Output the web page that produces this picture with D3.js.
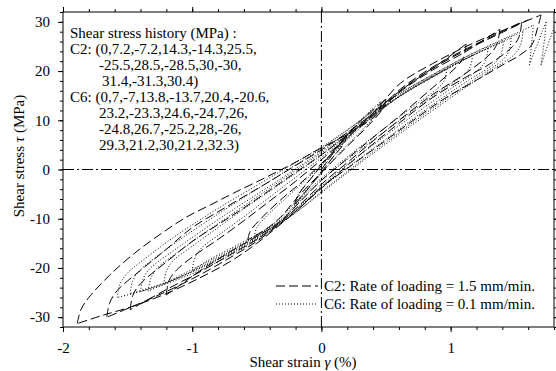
<!DOCTYPE html>
<html>
<head>
<meta charset="utf-8">
<script src="https://cdnjs.cloudflare.com/ajax/libs/d3/7.8.5/d3.min.js"></script>
<style>
  body { margin: 0; background: #fff; }
  svg { display: block; font-family: "Liberation Serif", "Times New Roman", serif; }
</style>
</head>
<body>
<div id="chart"></div>
<script>
// axis ticks
var xTicks = [-2, -1, 0, 1];
var yTicks = [-30, -20, -10, 0, 10, 20, 30];

// text in the upper-left box
var historyLines = [
  "Shear stress history (MPa) :",
  "C2: (0,7.2,-7.2,14.3,-14.3,25.5,",
  "-25.5,28.5,-28.5,30,-30,",
  "31.4,-31.3,30.4)",
  "C6: (0,7,-7,13.8,-13.7,20.4,-20.6,",
  "23.2,-23.3,24.6,-24.7,26,",
  "-24.8,26.7,-25.2,28,-26,",
  "29.3,21.2,30,21.2,32.3)"
];
var legendLabels = ["C2: Rate of loading = 1.5 mm/min.", "C6: Rate of loading = 0.1 mm/min."];

// C2 : one array of [strain %, stress MPa] per half cycle
var c2 = [
  [[0,0],[0.1,3.7],[0.2,7.2]],
  [[0.2,7.2],[0.18,5.5],[0.08,2.2],[0,-0.5],[-0.1,-3.8],[-0.21,-7.2]],
  [[-0.21,-7.2],[-0.18,-5.2],[-0.08,-1.8],[0,0.8],[0.15,5.5],[0.32,10.3],[0.5,14.3]],
  [[0.5,14.3],[0.47,12.2],[0.35,8.6],[0.18,4.2],[0,-0.6],[-0.18,-5.5],[-0.32,-9.8],[-0.45,-12.5],[-0.57,-14.3]],
  [[-0.57,-14.3],[-0.55,-12.5],[-0.45,-9.5],[-0.3,-5.8],[-0.15,-2.5],[0,1.2],[0.18,5.8],[0.35,10.3],[0.55,14.8],[0.75,18.6],[0.95,22.2],[1.12,25.5]],
  [[1.12,25.5],[1.10,22.8],[1.05,21.0],[0.86,16.6],[0.61,11.0],[0.4,6.5],[0.2,2.2],[0,-2.2],[-0.16,-6.4],[-0.32,-10.6],[-0.5,-13.6],[-0.7,-16.6],[-0.94,-20.6],[-1.08,-23.2],[-1.2,-25.5]],
  [[-1.2,-25.5],[-1.18,-22.6],[-1.12,-20.4],[-1.0,-17.8],[-0.8,-14.2],[-0.6,-10.4],[-0.4,-6.4],[-0.2,-2.4],[0,2.0],[0.2,6.5],[0.4,11],[0.61,15.8],[0.86,20.2],[1.12,24],[1.38,28.5]],
  [[1.38,28.5],[1.36,25.6],[1.31,23.6],[1.12,19.6],[0.86,15.2],[0.61,10.2],[0.4,5.8],[0.2,1.4],[0,-3.0],[-0.16,-7.0],[-0.32,-10.8],[-0.5,-14.2],[-0.7,-17.2],[-0.94,-20.8],[-1.2,-24.4],[-1.38,-27.0],[-1.48,-28.5]],
  [[-1.48,-28.5],[-1.46,-25.6],[-1.4,-23.2],[-1.2,-18.8],[-1.0,-14.6],[-0.8,-11.2],[-0.6,-7.8],[-0.4,-4.2],[-0.2,-0.6],[0,3.0],[0.2,7.0],[0.4,11.2],[0.61,16.3],[0.86,20.8],[1.12,24.5],[1.38,27.8],[1.55,30]],
  [[1.55,30],[1.53,27.0],[1.48,25.0],[1.3,21.4],[1.12,18.8],[0.86,14.6],[0.61,9.6],[0.4,5.2],[0.2,0.8],[0,-3.8],[-0.16,-7.6],[-0.32,-11.0],[-0.5,-14.6],[-0.7,-17.8],[-0.94,-21.4],[-1.2,-24.8],[-1.46,-27.8],[-1.66,-30]],
  [[-1.66,-30],[-1.64,-27.2],[-1.58,-24.6],[-1.4,-20.5],[-1.2,-16.2],[-1.0,-11.8],[-0.8,-8.6],[-0.6,-5.5],[-0.4,-2.4],[-0.2,0.8],[0,4.0],[0.2,7.5],[0.4,11.5],[0.61,17.5],[0.86,21.5],[1.12,25],[1.38,28],[1.55,29.8],[1.70,31.4]],
  [[1.70,31.4],[1.67,28.5],[1.63,25.4],[1.55,23.5],[1.40,21.2],[1.19,18.0],[0.94,14.2],[0.68,9.4],[0.45,5.0],[0.22,0.6],[0,-3.6],[-0.16,-7.6],[-0.32,-11.2],[-0.5,-15.0],[-0.7,-18.6],[-0.94,-22.0],[-1.2,-25.2],[-1.46,-27.8],[-1.69,-29.6],[-1.89,-31.3]],
  [[-1.89,-31.3],[-1.86,-28.4],[-1.80,-26],[-1.64,-21.5],[-1.46,-17.3],[-1.25,-13.2],[-1.04,-9.6],[-0.86,-7.2],[-0.68,-4.8],[-0.43,-1.6],[-0.22,1.2],[0,4.4],[0.19,7.0],[0.4,10.5],[0.61,16],[0.86,20.5],[1.12,24.3],[1.38,27.6],[1.6,30.4]]
];

// C6 : same layout
var c6 = [
  [[0,0],[0.1,3.6],[0.19,7]],
  [[0.19,7],[0.17,5.4],[0.08,2.2],[0,-0.4],[-0.1,-3.7],[-0.2,-7]],
  [[-0.2,-7],[-0.18,-5.1],[-0.08,-1.7],[0,0.9],[0.15,5.6],[0.3,10.0],[0.46,13.8]],
  [[0.46,13.8],[0.44,11.8],[0.33,8.4],[0.16,3.9],[0,-0.8],[-0.16,-5.4],[-0.32,-9.9],[-0.43,-12.2],[-0.52,-13.7]],
  [[-0.52,-13.7],[-0.5,-11.8],[-0.43,-9.6],[-0.3,-6.4],[-0.15,-2.8],[0,0.9],[0.2,6.0],[0.4,10.8],[0.61,15.0],[0.8,18.0],[0.97,20.4]],
  [[0.97,20.4],[0.95,18.0],[0.9,16.5],[0.7,12.6],[0.5,8.6],[0.3,4.6],[0.1,0.4],[-0.1,-4.2],[-0.32,-10.3],[-0.5,-13.2],[-0.7,-16.0],[-0.88,-18.5],[-1.0,-20.6]],
  [[-1.0,-20.6],[-0.98,-18.0],[-0.93,-16.0],[-0.8,-13.4],[-0.6,-9.6],[-0.4,-5.6],[-0.2,-1.6],[0,2.4],[0.2,6.8],[0.4,10.8],[0.61,14.9],[0.86,18.7],[1.0,20.8],[1.17,23.2]],
  [[1.17,23.2],[1.15,20.8],[1.10,19.2],[0.9,15.6],[0.7,11.8],[0.5,7.9],[0.3,4.0],[0.1,0],[-0.1,-4.6],[-0.32,-10.5],[-0.5,-13.5],[-0.7,-16.3],[-0.9,-19.0],[-1.1,-21.6],[-1.22,-23.3]],
  [[-1.22,-23.3],[-1.20,-20.7],[-1.15,-18.6],[-1.0,-15.6],[-0.8,-11.8],[-0.6,-8.0],[-0.4,-4.4],[-0.2,-0.8],[0,2.9],[0.2,7.0],[0.4,11.0],[0.61,15.0],[0.86,18.8],[1.12,22.5],[1.29,24.6]],
  [[1.29,24.6],[1.27,22.1],[1.22,20.4],[1.0,16.4],[0.8,12.7],[0.6,8.9],[0.4,5.0],[0.2,1.0],[0,-3.4],[-0.16,-7.2],[-0.32,-10.6],[-0.5,-13.7],[-0.7,-16.6],[-0.9,-19.3],[-1.1,-21.9],[-1.34,-24.7]],
  [[-1.34,-24.7],[-1.32,-22.1],[-1.27,-20.0],[-1.1,-16.6],[-0.9,-12.8],[-0.7,-9.2],[-0.5,-5.6],[-0.3,-2.0],[-0.1,1.6],[0.1,5.2],[0.3,9.2],[0.5,13.0],[0.75,17.2],[1.0,20.9],[1.22,23.8],[1.41,26]],
  [[1.41,26],[1.39,23.4],[1.34,21.6],[1.12,17.8],[0.9,13.9],[0.7,10.1],[0.5,6.2],[0.3,2.3],[0.1,-1.7],[-0.1,-6.0],[-0.32,-10.7],[-0.5,-13.9],[-0.7,-16.8],[-0.9,-19.5],[-1.15,-22.5],[-1.40,-24.8]],
  [[-1.40,-24.8],[-1.38,-22.2],[-1.33,-20.2],[-1.15,-16.6],[-0.95,-12.9],[-0.75,-9.3],[-0.55,-5.9],[-0.35,-2.5],[-0.15,1.0],[0.05,4.6],[0.25,8.5],[0.45,12.3],[0.7,16.6],[0.95,20.3],[1.2,23.6],[1.47,26.7]],
  [[1.47,26.7],[1.45,24.0],[1.40,22.2],[1.2,18.6],[1.0,15.0],[0.8,11.3],[0.6,7.5],[0.4,3.6],[0.2,-0.4],[0,-4.5],[-0.16,-8.0],[-0.32,-10.9],[-0.5,-14.1],[-0.7,-17.0],[-0.95,-20.2],[-1.2,-22.9],[-1.48,-25.2]],
  [[-1.48,-25.2],[-1.46,-22.6],[-1.41,-20.6],[-1.25,-17.2],[-1.05,-13.4],[-0.85,-9.9],[-0.65,-6.5],[-0.45,-3.2],[-0.25,0.1],[-0.05,3.4],[0.15,7.0],[0.35,10.9],[0.6,15.4],[0.86,19.2],[1.12,22.9],[1.38,26.0],[1.56,28]],
  [[1.56,28],[1.54,25.2],[1.49,23.3],[1.3,19.9],[1.1,16.4],[0.9,12.7],[0.7,9.0],[0.5,5.2],[0.3,1.3],[0.1,-2.7],[-0.1,-6.8],[-0.32,-11.1],[-0.5,-14.4],[-0.7,-17.4],[-0.95,-20.6],[-1.2,-23.2],[-1.4,-24.8],[-1.58,-26]],
  [[-1.58,-26],[-1.56,-23.4],[-1.51,-21.3],[-1.35,-17.8],[-1.15,-13.9],[-0.95,-10.4],[-0.75,-7.1],[-0.55,-4.0],[-0.35,-0.9],[-0.15,2.2],[0.05,5.4],[0.25,9.0],[0.45,12.7],[0.7,16.9],[0.95,20.6],[1.2,24.0],[1.45,27.0],[1.64,29.3]],
  [[1.64,29.3],[1.63,26.5],[1.62,23.8],[1.61,21.2]],
  [[1.61,21.2],[1.64,23.4],[1.68,26.0],[1.71,28.2],[1.74,30]],
  [[1.74,30],[1.73,27.2],[1.715,24.2],[1.70,21.2]],
  [[1.70,21.2],[1.73,23.6],[1.77,26.6],[1.81,29.4],[1.86,32.3]]
];

var width = 556, height = 371;
var plotL = 63, plotR = 554, plotT = 12, plotB = 327;

var svg = d3.select('#chart').append('svg')
  .attr('width', width).attr('height', height);

var x = d3.scaleLinear().domain([-2, 1.8]).range([plotL, plotR]);
var y = d3.scaleLinear().domain([-32, 32]).range([plotB, plotT]);

var xMinor = d3.range(-20, 19, 2).map(function (d) { return d / 10; });
var yMinor = d3.range(-32, 33, 2);

svg.append('clipPath').attr('id', 'plot')
  .append('rect').attr('x', plotL).attr('y', plotT)
  .attr('width', plotR - plotL).attr('height', plotB - plotT);

// zero lines (dash-dot)
svg.append('line')
  .attr('x1', plotL).attr('x2', plotR).attr('y1', y(0)).attr('y2', y(0))
  .attr('stroke', '#000').attr('stroke-width', 1).attr('stroke-dasharray', '11,3,2,3');
svg.append('line')
  .attr('x1', x(0)).attr('x2', x(0)).attr('y1', plotT).attr('y2', plotB)
  .attr('stroke', '#000').attr('stroke-width', 1).attr('stroke-dasharray', '11,3,2,3');

var line = d3.line()
  .x(function (d) { return x(d[0]); })
  .y(function (d) { return y(d[1]); })
  .curve(d3.curveCatmullRom.alpha(0.5));

var curves = svg.append('g').attr('clip-path', 'url(#plot)');

curves.selectAll('path.c6')
  .data(c6)
  .enter().append('path')
  .attr('class', 'c6')
  .attr('d', line)
  .attr('fill', 'none').attr('stroke', '#000').attr('stroke-width', 1)
  .attr('stroke-dasharray', '1,2');

curves.selectAll('path.c2')
  .data(c2)
  .enter().append('path')
  .attr('class', 'c2')
  .attr('d', line)
  .attr('fill', 'none').attr('stroke', '#000').attr('stroke-width', 1)
  .attr('stroke-dasharray', '9,4');

// axes, ticks outward on all four sides
function styleAxis(g) {
  g.select('.domain').remove();
  g.selectAll('line').attr('stroke', '#000');
  g.selectAll('text').attr('font-size', '15px').attr('fill', '#000')
    .attr('font-family', '"Liberation Serif", "Times New Roman", serif');
}

svg.append('g').attr('transform', 'translate(0,' + plotB + ')')
  .call(d3.axisBottom(x).tickValues(xMinor).tickSize(3).tickFormat(''))
  .call(styleAxis);
svg.append('g').attr('transform', 'translate(0,' + plotB + ')')
  .call(d3.axisBottom(x).tickValues(xTicks).tickSize(5).tickPadding(10)
    .tickFormat(function (d) { return String(d); }))
  .call(styleAxis);
svg.append('g').attr('transform', 'translate(0,' + plotT + ')')
  .call(d3.axisTop(x).tickValues(xMinor).tickSize(3).tickFormat(''))
  .call(styleAxis);
svg.append('g').attr('transform', 'translate(0,' + plotT + ')')
  .call(d3.axisTop(x).tickValues(xTicks).tickSize(5).tickFormat(''))
  .call(styleAxis);

svg.append('g').attr('transform', 'translate(' + plotL + ',0)')
  .call(d3.axisLeft(y).tickValues(yMinor).tickSize(3).tickFormat(''))
  .call(styleAxis);
svg.append('g').attr('transform', 'translate(' + plotL + ',0)')
  .call(d3.axisLeft(y).tickValues(yTicks).tickSize(5).tickPadding(8)
    .tickFormat(function (d) { return String(d); }))
  .call(styleAxis);
svg.append('g').attr('transform', 'translate(' + plotR + ',0)')
  .call(d3.axisRight(y).tickValues(yMinor).tickSize(3).tickFormat(''))
  .call(styleAxis);
svg.append('g').attr('transform', 'translate(' + plotR + ',0)')
  .call(d3.axisRight(y).tickValues(yTicks).tickSize(5).tickFormat(''))
  .call(styleAxis);

// frame
svg.append('rect')
  .attr('x', plotL).attr('y', plotT)
  .attr('width', plotR - plotL).attr('height', plotB - plotT)
  .attr('fill', 'none').attr('stroke', '#000').attr('stroke-width', 1);

// axis titles
var xt = svg.append('text')
  .attr('x', 303).attr('y', 367)
  .attr('text-anchor', 'middle').attr('font-size', '15px');
xt.append('tspan').text('Shear strain ');
xt.append('tspan').attr('font-style', 'italic').text('\u03b3');
xt.append('tspan').text(' (%)');

var yt = svg.append('text')
  .attr('transform', 'translate(24,156) rotate(-90)')
  .attr('text-anchor', 'middle').attr('font-size', '15px');
yt.append('tspan').text('Shear stress ');
yt.append('tspan').attr('font-style', 'italic').text('\u03c4');
yt.append('tspan').text(' (MPa)');

// stress history note
var noteX = [70, 70, 99, 102, 70, 99, 99, 99];
svg.append('g').selectAll('text')
  .data(historyLines)
  .enter().append('text')
  .attr('x', function (d, i) { return noteX[i]; })
  .attr('y', function (d, i) { return 38 + i * 16; })
  .attr('font-size', '15px')
  .text(function (d) { return d; });

// legend
var legend = svg.append('g');
var legendDash = ['9,4', '1,2'];
legendLabels.forEach(function (label, i) {
  var ly = 286 + i * 18;
  legend.append('line')
    .attr('x1', 276).attr('x2', 318).attr('y1', ly).attr('y2', ly)
    .attr('stroke', '#000').attr('stroke-width', 1)
    .attr('stroke-dasharray', legendDash[i]);
  legend.append('text')
    .attr('x', 324).attr('y', ly + 4.5)
    .attr('font-size', '15px')
    .text(label);
});
</script>
</body>
</html>
